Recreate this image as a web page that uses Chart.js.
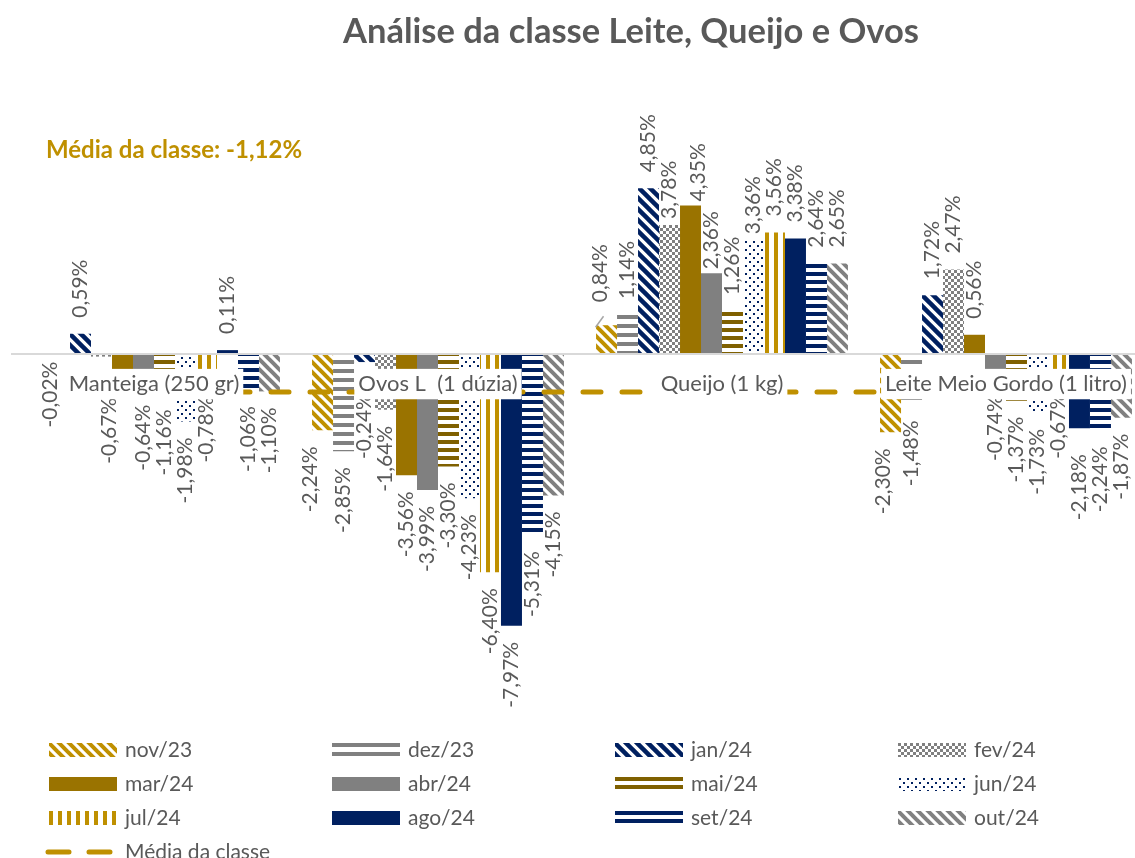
<!DOCTYPE html>
<html><head><meta charset="utf-8">
<script src="https://cdn.jsdelivr.net/npm/chart.js@4.4.1/dist/chart.umd.min.js"></script>
<style>html,body{margin:0;padding:0;background:#fff;overflow:hidden;}canvas{display:block;}</style>
</head><body>
<canvas id="c" width="1160" height="858"></canvas>
<script>
// ---- data ----
const categories = ['Manteiga (250 gr)', 'Ovos L  (1 dúzia)', 'Queijo (1 kg)', 'Leite Meio Gordo (1 litro)'];
const months = ['nov/23','dez/23','jan/24','fev/24','mar/24','abr/24','mai/24','jun/24','jul/24','ago/24','set/24','out/24'];
const nov23 = [-0.02, -2.24, 0.84, -2.30];
const dez23 = [null, -2.85, 1.14, -1.48];
const jan24 = [0.59, -0.24, 4.85, 1.72];
const fev24 = [-0.08, -1.64, 3.78, 2.47];
const mar24 = [-0.67, -3.56, 4.35, 0.56];
const abr24 = [-0.64, -3.99, 2.36, -0.74];
const mai24 = [-1.16, -3.30, 1.26, -1.37];
const jun24 = [-1.98, -4.23, 3.36, -1.73];
const jul24 = [-0.78, -6.40, 3.56, -0.67];
const ago24 = [0.11, -7.97, 3.38, -2.18];
const set24 = [-1.06, -5.31, 2.64, -2.24];
const out24 = [-1.10, -4.15, 2.65, -1.87];
const mediaClasse = [-1.12, -1.12, -1.12, -1.12];
const mediaLabel = 'Média da classe';
const chartTitle = 'Análise da classe Leite, Queijo e Ovos';

// ---- styling ----
const GOLD = '#BF9000', NAVY = '#002060', GRAY = '#808080', BROWN = '#9A7300', DBROWN = '#7F6000', TXT = '#595959';
const FONT = 'Lato';
const mainCtx = document.getElementById('c').getContext('2d');
function tile(w, h, draw) {
  const c = document.createElement('canvas'); c.width = w; c.height = h;
  const g = c.getContext('2d'); g.fillStyle = '#fff'; g.fillRect(0, 0, w, h); draw(g);
  return mainCtx.createPattern(c, 'repeat');
}
const diag = (col, p, lw) => tile(p, p, g => { g.strokeStyle = col; g.lineWidth = lw; for (const o of [-p, 0, p]) { g.beginPath(); g.moveTo(o - 3, -3); g.lineTo(o + p + 3, p + 3); g.stroke(); } });
const hstripe = (col, p, b) => tile(4, p, g => { g.fillStyle = col; g.fillRect(0, 0, 4, b); });
const vstripe = (col, p, b) => tile(p, 4, g => { g.fillStyle = col; g.fillRect(0, 0, b, 4); });
const checker = (col, s) => tile(2 * s, 2 * s, g => { g.fillStyle = col; g.fillRect(0, 0, s, s); g.fillRect(s, s, s, s); });
const dots = (col) => tile(8, 8, g => { g.fillStyle = col; g.fillRect(1, 1, 2, 2); g.fillRect(5, 5, 2, 2); });

const fills = [
  diag(GOLD, 10, 4), hstripe(GRAY, 9, 4), diag(NAVY, 11, 4.5), checker(GRAY, 3),
  BROWN, GRAY, hstripe(DBROWN, 8, 4), dots(NAVY),
  vstripe(GOLD, 9, 4), NAVY, hstripe(NAVY, 8, 4), diag(GRAY, 10, 4)
];
const series = [nov23, dez23, jan24, fev24, mar24, abr24, mai24, jun24, jul24, ago24, set24, out24];

// label placement tweaks (category-series) as in the original
const labelNudges = { '0-0': [12, -9], '0-4': [-13, 5], '0-5': [0, 13], '1-0': [-12, 0], '1-2': [0, 15],
  '2-0': [-6, -7], '2-3': [0, 10], '2-4': [8, 12], '2-5': [0, 12], '2-7': [0, 11], '3-0': [-7, 0], '3-9': [0, 10] };
const leaderLines = ['2-0'];
const hiddenLabels = ['0-3'];
const GAP = 16;
const fmt = v => v.toFixed(2).replace('.', ',') + '%';

const barLabels = {
  id: 'barLabels',
  afterDatasetsDraw(chart) {
    const ctx = chart.ctx;
    ctx.save();
    ctx.font = `21px ${FONT}`; ctx.fillStyle = TXT; ctx.textBaseline = 'middle';
    chart.data.datasets.forEach((ds, si) => {
      if (ds.type === 'line') return;
      chart.getDatasetMeta(si).data.forEach((el, ci) => {
        const v = ds.data[ci];
        if (v === null || v === undefined) return;
        const key = ci + '-' + si;
        if (hiddenLabels.includes(key)) return;
        const [dx, dy] = labelNudges[key] || [0, 0];
        if (leaderLines.includes(key)) {
          ctx.save(); ctx.strokeStyle = '#A6A6A6'; ctx.lineWidth = 1.5;
          ctx.beginPath(); ctx.moveTo(el.x - 11, el.y + 2); ctx.lineTo(el.x - 3, el.y - 9); ctx.stroke(); ctx.restore();
        }
        ctx.save();
        if (v >= 0) { ctx.translate(el.x + dx, el.y - GAP + dy); ctx.textAlign = 'left'; }
        else { ctx.translate(el.x + dx, el.y + GAP + dy); ctx.textAlign = 'right'; }
        ctx.rotate(-Math.PI / 2);
        ctx.fillText(fmt(v), 0, 0);
        ctx.restore();
      });
    });
    ctx.restore();
  }
};

const decor = {
  id: 'decor',
  afterDraw(chart) {
    const ctx = chart.ctx;
    ctx.save();
    // title
    ctx.font = `bold 34.5px ${FONT}`; ctx.fillStyle = TXT; ctx.textAlign = 'center'; ctx.textBaseline = 'alphabetic';
    ctx.fillText(chartTitle, 631, 43);
    // class average note
    ctx.font = `bold 24px ${FONT}`; ctx.fillStyle = GOLD; ctx.textAlign = 'left';
    ctx.fillText(mediaLabel + ': ' + fmt(mediaClasse[0]), 46, 158);
    // legend grid
    const colX = [49, 332, 615, 898], rowY = [750, 784, 818, 852];
    ctx.font = `21px ${FONT}`; ctx.textBaseline = 'middle';
    chart.data.datasets.forEach((ds, i) => {
      const x = colX[i % 4], y = rowY[Math.floor(i / 4)];
      if (ds.type === 'line') {
        ctx.save(); ctx.strokeStyle = ds.borderColor; ctx.lineWidth = 5; ctx.lineCap = 'round';
        ctx.beginPath(); ctx.moveTo(x - 1, y); ctx.lineTo(x + 20, y); ctx.moveTo(x + 40, y); ctx.lineTo(x + 61, y); ctx.stroke(); ctx.restore();
      } else {
        ctx.save(); ctx.translate(x, y - 7); ctx.fillStyle = ds.backgroundColor; ctx.fillRect(0, 0, 68, 14); ctx.restore();
      }
      ctx.fillStyle = TXT; ctx.textAlign = 'left';
      ctx.fillText(ds.label, x + 76, y);
    });
    ctx.restore();
  }
};

Chart.defaults.font.family = FONT;
const datasets = series.map((arr, i) => ({
  type: 'bar', label: months[i], data: arr, backgroundColor: fills[i], borderWidth: 0,
  order: 1, categoryPercentage: 0.887, barPercentage: 1
}));
datasets.push({
  type: 'line', label: mediaLabel, data: mediaClasse, borderColor: GOLD, borderWidth: 5,
  borderDash: [18, 21], borderDashOffset: 0, borderCapStyle: 'round', pointRadius: 0, fill: false, order: 0
});

new Chart(mainCtx, {
  data: { labels: categories, datasets },
  options: {
    responsive: false, animation: false, devicePixelRatio: 1,
    layout: { padding: { left: 12, right: 12, top: 115, bottom: 197 } },
    plugins: { legend: { display: false }, tooltip: { enabled: false }, title: { display: false } },
    scales: {
      x: {
        type: 'category', position: { y: 0 }, offset: true,
        grid: { display: false, drawTicks: false },
        border: { display: true, color: '#D9D9D9', width: 2, z: 1 },
        ticks: { z: 1, color: TXT, font: { family: FONT, size: 22 }, padding: 17, maxRotation: 0, autoSkip: false,
          showLabelBackdrop: true, backdropColor: '#ffffff', backdropPadding: { top: 2, bottom: 2, left: 4, right: 4 } }
      },
      y: { display: false, min: -9, max: 7 }
    }
  },
  plugins: [barLabels, decor]
});
</script>
</body></html>
